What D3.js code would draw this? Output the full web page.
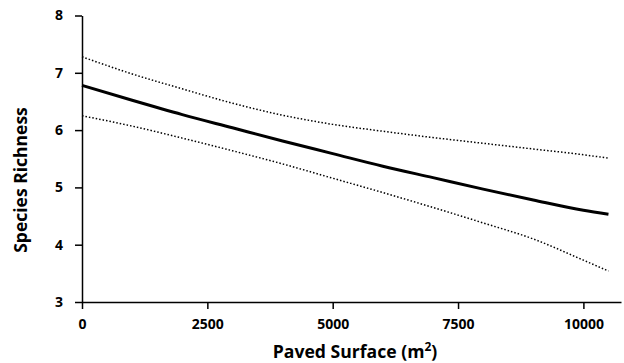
<!DOCTYPE html>
<html><head><meta charset="utf-8">
<script src="https://cdn.jsdelivr.net/npm/d3@7"></script>
<style>body{margin:0;background:#fff}svg{display:block}text{font-family:"Open Sans",Lato,sans-serif;font-weight:bold;fill:#000}</style>
</head><body>
<script>
const paved = [0,1000,2000,3000,4000,5000,6000,7000,8000,9000,10000,10500];
const meanRich = [6.78,6.52,6.27,6.04,5.81,5.59,5.37,5.17,4.97,4.78,4.60,4.53];
const upperCI = [7.28,6.98,6.72,6.47,6.26,6.10,5.98,5.87,5.77,5.67,5.57,5.51];
const lowerCI = [6.25,6.07,5.86,5.64,5.41,5.16,4.91,4.65,4.38,4.10,3.73,3.54];
const xTicks = [0,2500,5000,7500,10000];
const yTicks = [3,4,5,6,7,8];

const W=624,H=363;
const svg=d3.select("body").append("svg").attr("width",W).attr("height",H);
const x=d3.scaleLinear().domain([0,10750]).range([82,621]);
const y=d3.scaleLinear().domain([3,8]).range([302,15.5]);

const ya=svg.append("g").attr("transform","translate(82,0)")
  .call(d3.axisLeft(y).tickValues(yTicks).tickFormat(d3.format("d")).tickSize(7).tickPadding(12).tickSizeOuter(0));
ya.select(".domain").attr("stroke","#000").attr("stroke-width",1.5);
ya.selectAll(".tick line").attr("stroke-width",1.5);
ya.selectAll("text").style("font-size","14px");

const xa=svg.append("g").attr("transform","translate(0,302)")
  .call(d3.axisBottom(x).tickValues(xTicks).tickFormat(d3.format("d")).tickSize(7).tickPadding(10).tickSizeOuter(0));
xa.select(".domain").attr("stroke","#000").attr("stroke-width",1.5);
xa.selectAll(".tick line").attr("stroke-width",1.5);
xa.selectAll("text").style("font-size","14px");

const line=d3.line().curve(d3.curveMonotoneX).x((d,i)=>x(paved[i])).y(d=>y(d));
svg.append("path").datum(upperCI).attr("d",line).attr("fill","none").attr("stroke","#000").attr("stroke-width",1.5).attr("stroke-dasharray","1.5,2");
svg.append("path").datum(lowerCI).attr("d",line).attr("fill","none").attr("stroke","#000").attr("stroke-width",1.5).attr("stroke-dasharray","1.5,2");
svg.append("path").datum(meanRich).attr("d",line).attr("fill","none").attr("stroke","#000").attr("stroke-width",3);

svg.append("text").attr("x",355).attr("y",358).attr("text-anchor","middle").style("font-size","17.6px")
  .html('Paved Surface (m<tspan dy="-7" style="font-size:12px">2</tspan><tspan dy="7">)</tspan>');
svg.append("text").attr("transform","translate(27,180) rotate(-90)").attr("text-anchor","middle").style("font-size","17.5px").text("Species Richness");
</script>
</body></html>
